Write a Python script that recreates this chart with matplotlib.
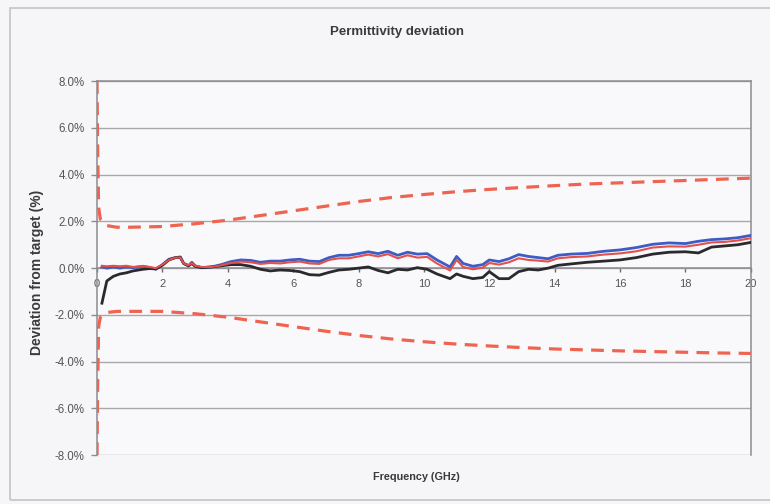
import matplotlib
matplotlib.use("Agg")
import matplotlib.pyplot as plt
from matplotlib.patches import Rectangle
from matplotlib.ticker import FuncFormatter

# Tolerance limits (upper / lower), percent
limit_freq = [0.0, 0.02, 0.05, 0.1, 0.3, 0.6, 1, 2, 3, 4, 5, 6, 7, 8, 9, 10,
              11, 12, 13, 14, 15, 16, 17, 18, 19, 20]
upper_limit = [8.0, 5.0, 2.6, 2.1, 1.82, 1.75, 1.75, 1.78, 1.9, 2.05, 2.25, 2.45,
               2.65, 2.85, 3.02, 3.15, 3.27, 3.37, 3.45, 3.53, 3.6, 3.65, 3.7,
               3.75, 3.8, 3.85]
lower_limit = [-8.0, -5.0, -2.5, -2.1, -1.9, -1.85, -1.85, -1.85, -1.95, -2.1,
               -2.3, -2.5, -2.7, -2.88, -3.03, -3.15, -3.25, -3.33, -3.4, -3.46,
               -3.5, -3.54, -3.57, -3.6, -3.63, -3.65]

# Measured deviation, percent
freq = [0.15, 0.3, 0.5, 0.7, 0.9, 1.1, 1.4, 1.6, 1.8, 2.0, 2.2, 2.4, 2.55, 2.65,
        2.8, 2.9, 3.0, 3.2, 3.5, 3.8, 4.1, 4.4, 4.7, 5.0, 5.3, 5.6, 5.9, 6.2,
        6.5, 6.8, 7.1, 7.4, 7.7, 8.0, 8.3, 8.6, 8.9, 9.2, 9.5, 9.8, 10.1, 10.4,
        10.8, 11.0, 11.2, 11.5, 11.8, 12.0, 12.3, 12.6, 12.9, 13.2, 13.5, 13.8,
        14.1, 14.5, 15.0, 15.5, 16.0, 16.5, 17.0, 17.5, 18.0, 18.4, 18.8, 19.2,
        19.6, 20.0]
blue_dev = [0.05, 0.0, 0.05, 0.0, 0.05, 0.02, 0.08, 0.03, -0.05, 0.15, 0.38,
            0.45, 0.48, 0.2, 0.1, 0.25, 0.1, 0.02, 0.05, 0.15, 0.28, 0.35, 0.33,
            0.25, 0.3, 0.3, 0.35, 0.38, 0.3, 0.28, 0.45, 0.55, 0.55, 0.62, 0.7,
            0.62, 0.72, 0.55, 0.68, 0.6, 0.62, 0.35, 0.05, 0.5, 0.2, 0.08, 0.15,
            0.35, 0.28, 0.4, 0.58, 0.5, 0.45, 0.4, 0.55, 0.6, 0.63, 0.72, 0.78,
            0.88, 1.02, 1.08, 1.05, 1.15, 1.22, 1.25, 1.3, 1.4]
red_dev = [0.1, 0.08, 0.1, 0.08, 0.1, 0.05, 0.08, 0.05, 0.0, 0.15, 0.35, 0.45,
           0.45, 0.2, 0.12, 0.22, 0.1, 0.05, 0.05, 0.12, 0.22, 0.28, 0.25, 0.18,
           0.22, 0.2, 0.25, 0.28, 0.2, 0.18, 0.35, 0.42, 0.42, 0.5, 0.58, 0.5,
           0.6, 0.42, 0.55, 0.45, 0.48, 0.2, -0.1, 0.35, 0.05, -0.05, 0.02,
           0.22, 0.15, 0.25, 0.42, 0.35, 0.32, 0.28, 0.42, 0.47, 0.5, 0.58,
           0.63, 0.72, 0.88, 0.93, 0.92, 1.0, 1.1, 1.12, 1.18, 1.28]
black_dev = [-1.5, -0.55, -0.35, -0.25, -0.2, -0.12, -0.05, -0.02, -0.03, 0.12,
             0.35, 0.45, 0.45, 0.2, 0.1, 0.2, 0.08, 0.02, 0.05, 0.1, 0.15, 0.15,
             0.08, -0.05, -0.12, -0.08, -0.1, -0.15, -0.28, -0.3, -0.18, -0.08,
             -0.05, 0.0, 0.05, -0.1, -0.2, -0.05, -0.08, 0.02, -0.05, -0.25,
             -0.45, -0.25, -0.35, -0.45, -0.4, -0.15, -0.45, -0.45, -0.15,
             -0.05, -0.08, 0.0, 0.12, 0.18, 0.25, 0.3, 0.35, 0.45, 0.6, 0.68,
             0.7, 0.65, 0.9, 0.95, 1.0, 1.1]

x_ticks = [0, 2, 4, 6, 8, 10, 12, 14, 16, 18, 20]
y_ticks = [-8, -6, -4, -2, 0, 2, 4, 6, 8]

plt.rcParams['font.family'] = ['Liberation Sans', 'DejaVu Sans']

fig = plt.figure(figsize=(7.7, 5.04), dpi=100, facecolor='#f6f6f8')
ax = fig.add_axes([0.126, 0.097, 0.849, 0.742], facecolor='#f9f9fb')

# outer chart frame (runs off the right edge)
fig.patches.append(Rectangle((10 / 770, 4 / 504), 780 / 770, 492 / 504,
                             transform=fig.transFigure, fill=False,
                             edgecolor='#c4c4c8', linewidth=1.2))

dash_red = '#ef6450'
ax.plot(limit_freq, upper_limit, color=dash_red, lw=2.3, dashes=(4, 2.6), zorder=3)
ax.plot(limit_freq, lower_limit, color=dash_red, lw=2.3, dashes=(4, 2.6), zorder=3)
ax.plot(freq, blue_dev, color='#3d5cc4', lw=2.0, zorder=4)
ax.plot(freq, red_dev, color='#e4504c', lw=1.5, zorder=5)
ax.plot(freq, black_dev, color='#2a2a2e', lw=2.0, zorder=4)

ax.set_xlim(0, 20)
ax.set_ylim(-8, 8)
ax.set_xticks(x_ticks)
ax.set_yticks(y_ticks)
ax.yaxis.set_major_formatter(FuncFormatter(lambda v, p: f"{v:.1f}%"))
ax.grid(axis='y', color='#a8a8ac', linewidth=1.0, zorder=1)

for side in ['left', 'right', 'top', 'bottom']:
    ax.spines[side].set_color('#8c8c90')
    ax.spines[side].set_linewidth(1.1)
ax.spines['bottom'].set_position(('data', 0))

ax.tick_params(axis='x', direction='out', length=3, width=1, color='#6a6a6e',
               labelsize=8, labelcolor='#555558', pad=5)
ax.tick_params(axis='y', direction='out', length=4, width=1, color='#8c8c90',
               labelsize=8.3, labelcolor='#555558', pad=5)
ax.set_axisbelow(True)

fig.text(397 / 770, 1 - 32 / 504, 'Permittivity deviation', ha='center',
         va='center', fontsize=9.5, fontweight='bold', color='#3a3a3e')
fig.text(37 / 770, 1 - 272 / 504, 'Deviation from target (%)', ha='center',
         va='center', rotation=90, fontsize=10, fontweight='bold', color='#3a3a3e')
fig.text(416 / 770, 1 - 477 / 504, 'Frequency (GHz)', ha='center', va='center',
         fontsize=7.8, fontweight='bold', color='#3a3a3e')

fig.savefig('out.png', dpi=100, facecolor=fig.get_facecolor())
